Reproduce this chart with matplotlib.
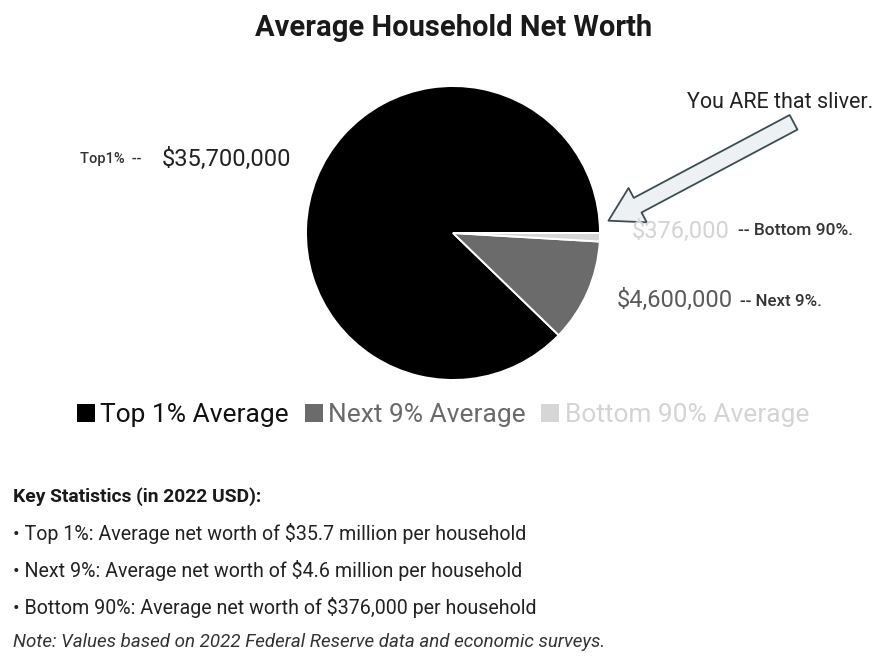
import matplotlib
matplotlib.use("Agg")
import matplotlib.pyplot as plt

plt.rcParams['font.family'] = ['Roboto', 'DejaVu Sans']

groups = ["Top 1% Average", "Next 9% Average", "Bottom 90% Average"]
net_worth = [35_700_000, 4_600_000, 376_000]
wedge_colors = ["#000000", "#6b6b6b", "#d6d6d6"]
text_colors = ["#111111", "#6a6a6a", "#d4d4d4"]

stats_heading = "Key Statistics (in 2022 USD):"
stats_lines = [
    "• Top 1%: Average net worth of $35.7 million per household",
    "• Next 9%: Average net worth of $4.6 million per household",
    "• Bottom 90%: Average net worth of $376,000 per household",
]
note = "Note: Values based on 2022 Federal Reserve data and economic surveys."

W, H = 878, 656
fig = plt.figure(figsize=(W / 100, H / 100), dpi=100)
fig.patch.set_facecolor("white")

# pie axes placed in pixel terms
cx, cy, r = 453, 233, 147
ax = fig.add_axes([(cx - r) / W, (H - cy - r) / H, 2 * r / W, 2 * r / H])
wedges, _ = ax.pie(net_worth, colors=wedge_colors, startangle=0, counterclock=True,
                   radius=1.0, wedgeprops=dict(edgecolor="white", linewidth=1.4))
ax.set_xlim(-1.0, 1.0)
ax.set_ylim(-1.0, 1.0)
ax.set_aspect("equal")
ax.axis("off")

def px(x, y):
    return x / W, 1 - y / H

fig.text(*px(454, 28), "Average Household Net Worth", ha="center", va="center",
         fontsize=21, fontweight="bold", color="#1a1a1a")

# value labels
fig.text(*px(80, 159), "Top1%  --", ha="left", va="center", fontsize=10.5,
         color="#333333", fontweight="medium")
fig.text(*px(162, 159), "$35,700,000", ha="left", va="center", fontsize=17,
         color="#222222")

fig.text(*px(632, 231), "$376,000", ha="left", va="center", fontsize=17,
         color=text_colors[2])
fig.text(*px(738, 231), "-- Bottom 90%.", ha="left", va="center", fontsize=12.5,
         color="#333333", fontweight="medium")

fig.text(*px(617, 300), "$4,600,000", ha="left", va="center", fontsize=17,
         color="#5a5a5a")
fig.text(*px(740, 301), "-- Next 9%.", ha="left", va="center", fontsize=12.2,
         color="#333333", fontweight="medium")

fig.text(*px(873, 103), "You ARE that sliver.", ha="right", va="center",
         fontsize=15.5, color="#222222")

# hollow block arrow pointing at the smallest wedge
fig.patches.append(matplotlib.patches.FancyArrowPatch(
    (796, H - 121), (606, H - 222), transform=None,
    arrowstyle="simple,head_length=1.7,head_width=2.0,tail_width=0.85",
    mutation_scale=14, facecolor="#eef1f3", edgecolor="#3b4d54", linewidth=1.3))

leg = fig.legend(wedges, groups, loc="center", bbox_to_anchor=px(443, 415),
                 ncol=3, frameon=False, fontsize=19, handlelength=0.68,
                 handleheight=0.68, handletextpad=0.2, columnspacing=0.6,
                 labelcolor=text_colors)
for h in leg.legend_handles:
    h.set_edgecolor("none")

fig.text(*px(13, 497), stats_heading, ha="left", va="center", fontsize=13.9,
         fontweight="bold", color="#1a1a1a")
for i, line in enumerate(stats_lines):
    fig.text(*px(13, 534 + 36.5 * i), line, ha="left", va="center", fontsize=14.1,
             color="#222222")
fig.text(*px(13, 642), note, ha="left", va="center", fontsize=13.5,
         style="italic", color="#333333")

fig.savefig("out.png", dpi=100, facecolor="white")
